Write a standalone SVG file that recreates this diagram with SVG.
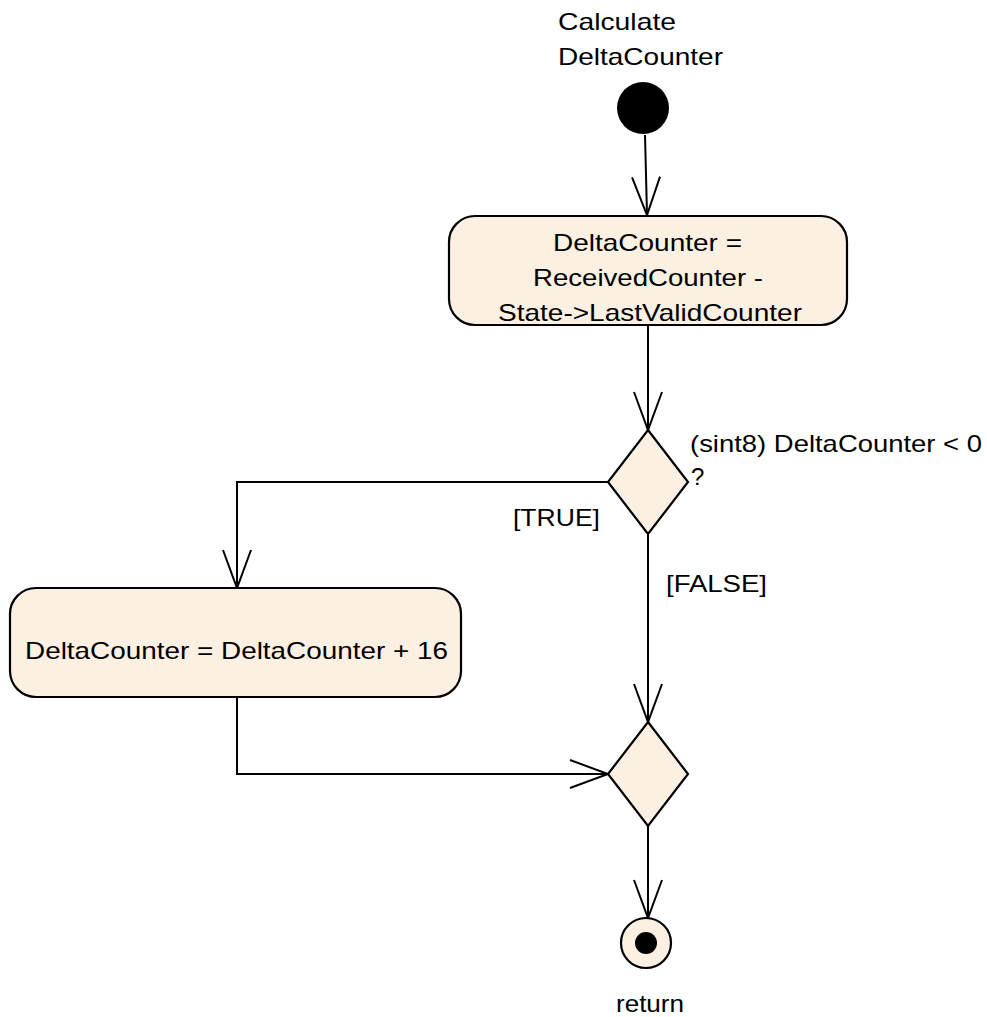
<svg xmlns="http://www.w3.org/2000/svg" width="987" height="1017" viewBox="0 0 987 1017">
<style>
.bg{fill:#ffffff}
.node{fill:#FBF0E2;stroke:#000000;stroke-width:2.2}
.edge{fill:none;stroke:#000000;stroke-width:2}
.t{font-family:"Liberation Sans",Arial,sans-serif;font-size:24px;fill:#000000}
.c{text-anchor:middle}
</style>
<defs>
<marker id="arr" markerUnits="userSpaceOnUse" markerWidth="44" markerHeight="34" viewBox="-40 -17 44 34" refX="0" refY="0" orient="auto" overflow="visible">
<path d="M-38,-14 L0,0 L-38,14" fill="none" stroke="#000000" stroke-width="2"/>
</marker>
</defs>
<rect class="bg" x="0" y="0" width="987" height="1017"/>

<g id="connectors">
<path class="edge" d="M645,135 L647,215" marker-end="url(#arr)"/>
<path class="edge" d="M648,325 L648,430" marker-end="url(#arr)"/>
<path class="edge" d="M608,482 L237,482 L237,588" marker-end="url(#arr)"/>
<path class="edge" d="M648,534 L648,722" marker-end="url(#arr)"/>
<path class="edge" d="M237,697 L237,774 L608,774" marker-end="url(#arr)"/>
<path class="edge" d="M648,826 L648,918" marker-end="url(#arr)"/>
<text class="t" x="513" y="526" textLength="87" lengthAdjust="spacingAndGlyphs">[TRUE]</text>
<text class="t" x="666" y="592" textLength="101" lengthAdjust="spacingAndGlyphs">[FALSE]</text>
</g>

<g id="start">
<circle cx="643" cy="108" r="26" fill="#000000"/>
<text class="t" x="558" y="30" textLength="118" lengthAdjust="spacingAndGlyphs">Calculate</text>
<text class="t" x="558" y="65" textLength="165" lengthAdjust="spacingAndGlyphs">DeltaCounter</text>
</g>

<g id="action1">
<rect class="node" x="449" y="216" width="398" height="109" rx="26" ry="26"/>
<text class="t" x="553" y="251" textLength="189" lengthAdjust="spacingAndGlyphs">DeltaCounter =</text>
<text class="t" x="533" y="286" textLength="230" lengthAdjust="spacingAndGlyphs">ReceivedCounter -</text>
<text class="t" x="498" y="321" textLength="304" lengthAdjust="spacingAndGlyphs">State-&gt;LastValidCounter</text>
</g>

<g id="decision1">
<polygon class="node" points="648,430 688,482 648,534 608,482"/>
<text class="t" x="690" y="452" textLength="292" lengthAdjust="spacingAndGlyphs">(sint8) DeltaCounter &lt; 0</text>
<text class="t" x="691" y="485">?</text>
</g>

<g id="action2">
<rect class="node" x="10" y="588" width="451" height="109" rx="26" ry="26"/>
<text class="t" x="25" y="659" textLength="423" lengthAdjust="spacingAndGlyphs">DeltaCounter = DeltaCounter + 16</text>
</g>

<g id="merge">
<polygon class="node" points="648,722 688,774 648,826 608,774"/>
</g>

<g id="end">
<circle class="node" cx="646" cy="943" r="25"/>
<circle cx="646" cy="943" r="11" fill="#000000"/>
<text class="t" x="616" y="1012" textLength="68" lengthAdjust="spacingAndGlyphs">return</text>
</g>
</svg>
